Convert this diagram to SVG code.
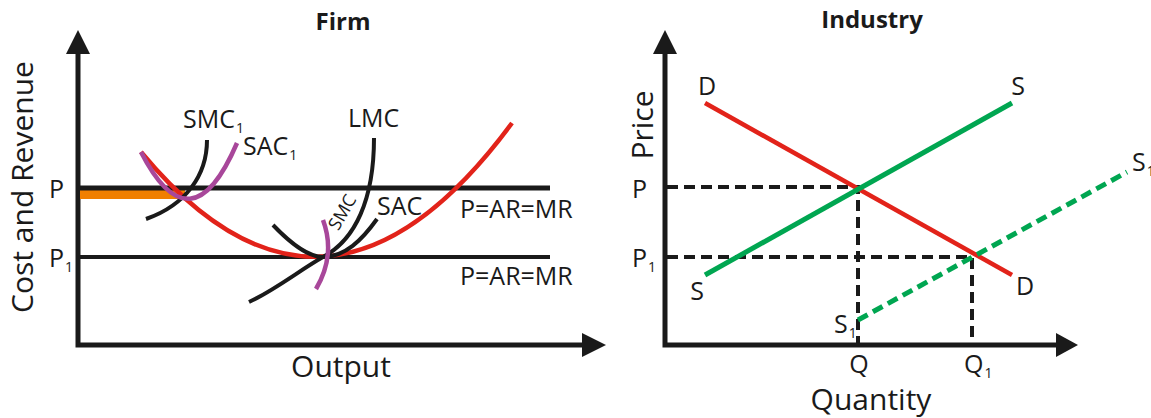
<svg xmlns="http://www.w3.org/2000/svg" width="1151" height="418" viewBox="0 0 1151 418">
<style>
text{font-family:"Open Sans","Noto Sans","Liberation Sans",sans-serif;fill:#1a1a1a}
.t{font-size:24px;font-weight:bold;text-anchor:middle}
.ax{font-size:30px}
.lb{font-size:25px}
.sub{font-size:14px}
.axis{stroke:#1a1a1a;stroke-width:5;fill:none}
.head{fill:#1a1a1a}
.blk{stroke:#1a1a1a;stroke-width:4;fill:none}
.red{stroke:#e2231a;stroke-width:4.5;fill:none}
.mag{stroke:#a8479a;stroke-width:4.5;fill:none}
.grn{stroke:#00a651;stroke-width:5;fill:none}
.dash{stroke:#1a1a1a;stroke-width:4;stroke-dasharray:11 6;fill:none}
.gdash{stroke:#00a651;stroke-width:5;stroke-dasharray:11 6;fill:none}
</style>

<g id="firm-title"><text class="t" x="343" y="30">Firm</text></g>
<g id="industry-title"><text class="t" x="872" y="28">Industry</text></g>

<g id="firm-axes">
<path class="axis" d="M78,48 V345 H588"/>
<polygon class="head" points="78,30 66,54 90,54"/>
<polygon class="head" points="606,345 582,333 582,357"/>
<text class="ax" transform="translate(33,187) rotate(-90)" text-anchor="middle">Cost and Revenue</text>
<text class="ax" x="341" y="377" text-anchor="middle">Output</text>
</g>

<g id="firm-price-lines">
<rect x="80" y="190" width="105" height="9" fill="#f07f00"/>
<line class="axis" x1="78" y1="188" x2="550" y2="188"/>
<line class="blk" x1="78" y1="257" x2="550" y2="257"/>
<text class="lb" x="49" y="198">P</text>
<text class="lb" x="49" y="267">P<tspan class="sub" dx="1" dy="5">1</tspan></text>
<text class="lb" x="460" y="218">P=AR=MR</text>
<text class="lb" x="460" y="285">P=AR=MR</text>
</g>

<g id="firm-curves">
<path id="lac" class="red" d="M141,152 Q326,375 512,123"/>
<path id="smc1" class="blk" d="M207,140 C207,175 186,205 146,219"/>
<path id="sac1" class="mag" d="M141,152 Q191,250 237,143"/>
<path id="lmc" class="blk" d="M374,138 C374,200 355,240 323,257 C300,270 275,290 249,302"/>
<path id="sac" class="blk" d="M273,225 C295,248 310,257 323,257 C345,257 362,240 377,219"/>
<path id="smc" class="mag" d="M323,220 Q336,255 316,289"/>
<text class="lb" x="183" y="128">SMC<tspan class="sub" dx="1" dy="5">1</tspan></text>
<text class="lb" x="243" y="155">SAC<tspan class="sub" dx="1" dy="5">1</tspan></text>
<text class="lb" x="348" y="127">LMC</text>
<text class="lb" x="377" y="215">SAC</text>
<text transform="translate(342,212) rotate(-60)" x="0" y="6.5" font-size="18" text-anchor="middle">SMC</text>
</g>

<g id="industry-axes">
<path class="axis" d="M665,48 V345 H1060"/>
<polygon class="head" points="665,30 653,54 677,54"/>
<polygon class="head" points="1078,345 1056,333 1056,357"/>
<text class="ax" transform="translate(653,125) rotate(-90)" text-anchor="middle">Price</text>
<text class="ax" x="871" y="410" text-anchor="middle">Quantity</text>
<text class="lb" x="632" y="198">P</text>
<text class="lb" x="632" y="267">P<tspan class="sub" dx="1" dy="5">1</tspan></text>
<text class="lb" x="859" y="373" text-anchor="middle">Q</text>
<text class="lb" x="964" y="373">Q<tspan class="sub" dx="1" dy="5">1</tspan></text>
</g>

<g id="connectors">
<path class="dash" d="M667,187 H858 V343"/>
<path class="dash" d="M667,257 H972 V343"/>
<line id="demand" class="red" x1="705" y1="103" x2="1012" y2="275"/>
<line id="supply" class="grn" x1="705" y1="275" x2="1012" y2="103"/>
<line id="supply1" class="gdash" x1="858" y1="320" x2="1127" y2="172"/>
</g>

<g id="industry-labels">
<text class="lb" x="707" y="95" text-anchor="middle">D</text>
<text class="lb" x="1018" y="95" text-anchor="middle">S</text>
<text class="lb" x="697" y="300" text-anchor="middle">S</text>
<text class="lb" x="1025" y="295" text-anchor="middle">D</text>
<text class="lb" x="1132" y="171">S<tspan class="sub" dx="1" dy="5">1</tspan></text>
<text class="lb" x="834" y="333">S<tspan class="sub" dx="1" dy="5">1</tspan></text>
</g>
</svg>
